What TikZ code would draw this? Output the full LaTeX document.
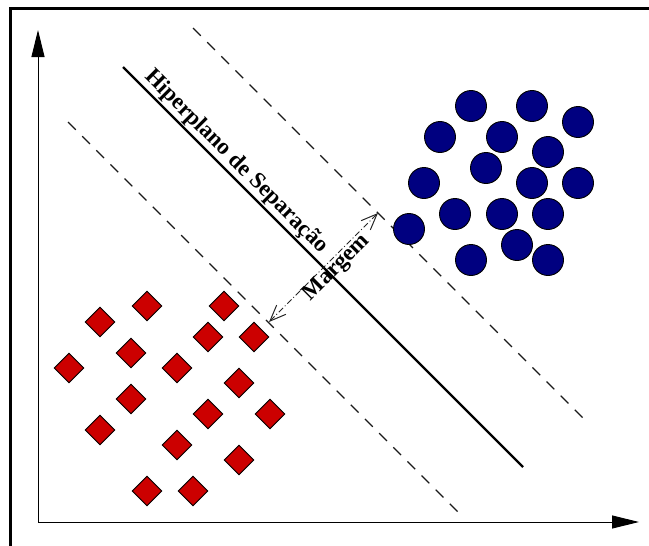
\documentclass[tikz,border=0pt]{standalone}
\usepackage{fontspec}
\setmainfont{Liberation Serif}
\usetikzlibrary{shapes.geometric,arrows.meta}
\definecolor{redpt}{RGB}{204,0,0}
\definecolor{bluept}{RGB}{0,0,128}
\tikzset{
  redd/.style={diamond,draw=black,line width=0.9pt,fill=redpt,minimum width=30pt,minimum height=30pt,inner sep=0pt},
  bluec/.style={circle,draw=black,line width=0.9pt,fill=bluept,minimum size=31pt,inner sep=0pt},
  axisline/.style={line width=0.9pt,-{Triangle[length=27pt,width=13pt]}},
  dashline/.style={line width=1.1pt,dash pattern=on 11pt off 9pt,draw=black!90},
  hyper/.style={line width=2.4pt},
  marg/.style={line width=0.8pt,draw=black!85,dash pattern=on 6pt off 2.5pt on 1pt off 2.5pt,{Straight Barb[length=16pt,width=13pt,line width=1pt]}-{Straight Barb[length=16pt,width=13pt,line width=1pt]}},
  lbl/.style={font=\bfseries\fontsize{23}{25}\selectfont,inner sep=1pt}
}
\begin{document}
\begin{tikzpicture}[x=1pt,y=-1pt]
\useasboundingbox (0,0) rectangle (649,546);
% frame
\coordinate (fa) at (649,8.5);
\coordinate (fb) at (10.5,8.5);
\coordinate (fc) at (10.5,546);
\draw[line width=3pt] (fa) -- (fb) -- (fc);
% axes
\coordinate (o) at (38,522);
\coordinate (ytip) at (38,30);
\coordinate (xtip) at (639,522);
\draw[axisline] (o) -- (ytip);
\draw[axisline] (o) -- (xtip);
% lines
\coordinate (h1) at (123,67);
\coordinate (h2) at (523,467);
\coordinate (u1) at (193,28);
\coordinate (u2) at (585,420);
\coordinate (l1) at (68,122);
\coordinate (l2) at (462,516);
\draw[dashline] (u1) -- (u2);
\draw[dashline] (l1) -- (l2);
\draw[hyper] (h1) -- (h2);
% margin
\coordinate (m1) at (269,322);
\coordinate (m2) at (378,213);
\draw[marg] (m1) -- (m2);
\node[lbl,rotate=45] (mlab) at (337,268) {Margem};
\coordinate (hm) at (228,170);
\node[lbl,rotate=-45,anchor=south] (hlab) at (hm) {Hiperplano de Separação};
% diamonds
\foreach \x/\y [count=\i] in {147/306,224/306,100/322,208/337,254/337,131/353,69/368,177/368,239/383,131/399,208/414,270/414,100/430,177/445,239/460,147/491,193/491}
  \node[redd] (d\i) at (\x,\y) {};
% circles
\foreach \x/\y [count=\i] in {471/106,532/106,578/122,440/137,502/137,548/152,486/168,424/183,532/183,578/183,455/214,502/214,548/214,409/229,517/245,471/260,548/260}
  \node[bluec] (c\i) at (\x,\y) {};
\end{tikzpicture}
\end{document}
